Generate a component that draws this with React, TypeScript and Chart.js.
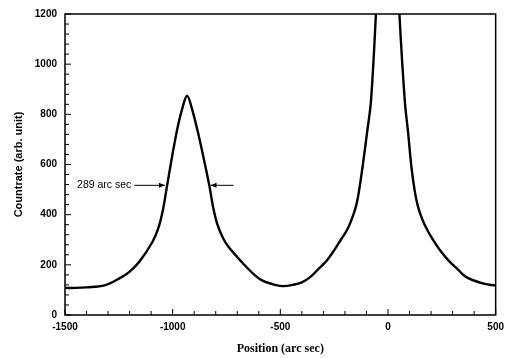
import React, { useEffect, useRef } from "react";
import { Chart, registerables } from "chart.js";

Chart.register(...registerables);

// Position (arc sec)
const positions = [
  -1500, -1450, -1400, -1316, -1247, -1201, -1155, -1094, -1065, -1045, -1027,
  -1002, -979, -956, -933, -910, -879, -852, -830, -812, -792, -765, -741, -680,
  -619, -580, -519, -488, -442, -400, -360, -328, -282, -220, -185, -159, -144, -130, -115, -98,
  -79, -56, -40, -20, 0, 20, 38, 53, 78, 94, 109, 125, 140, 160, 185, 209, 247, 285,
  324, 362, 439, 500,
];
// Countrate (arb. unit)
const countrate = [
  108, 108, 110, 118, 146, 172, 212, 291, 350, 420, 510,
  635, 740, 821, 874, 821, 715, 609, 517, 430, 360, 305, 272, 212,
  159, 136, 119, 115, 120, 130, 152, 179, 219, 298, 348, 404, 450, 520, 610, 722,
  854, 1200, 1500, 2000, 2300, 2000, 1500, 1200, 854, 722, 589, 490, 430, 380, 335, 300, 252, 214,
  182, 152, 126, 117,
];

const xTickValues = [-1500, -1000, -500, 0, 500];
const yTickValues = [0, 200, 400, 600, 800, 1000, 1200];

const annotationText = "289 arc sec";
const annotationY = 517;
const textEndX = -1192;
const leftArrow = [-1178, -1036];
const rightArrow = [-718, -824];

const boxPlugin = {
  id: "boxTicks",
  afterDraw(chart: any) {
    const { ctx, chartArea, scales } = chart;
    const { left, right, top, bottom } = chartArea;
    const x = scales.x;
    const y = scales.y;
    ctx.save();
    ctx.strokeStyle = "#000";
    ctx.lineWidth = 1.5;
    ctx.strokeRect(left, top, right - left, bottom - top);
    ctx.lineWidth = 1;
    for (let v = -1500; v <= 500; v += 100) {
      const px = x.getPixelForValue(v);
      const len = v % 500 === 0 ? 6 : 4;
      ctx.beginPath();
      ctx.moveTo(px, bottom);
      ctx.lineTo(px, bottom - len);
      ctx.stroke();
    }
    for (let v = 0; v <= 1200; v += 40) {
      const py = y.getPixelForValue(v);
      const len = v % 200 === 0 ? 6 : 4;
      ctx.beginPath();
      ctx.moveTo(left, py);
      ctx.lineTo(left + len, py);
      ctx.stroke();
    }
    // annotation
    const ay = y.getPixelForValue(annotationY);
    ctx.fillStyle = "#000";
    ctx.font = "10.5px 'Liberation Sans', Arial, sans-serif";
    ctx.textAlign = "right";
    ctx.textBaseline = "middle";
    ctx.fillText(annotationText, x.getPixelForValue(textEndX), ay);
    const drawArrow = (from: number, to: number) => {
      const x0 = x.getPixelForValue(from);
      const x1 = x.getPixelForValue(to);
      const dir = Math.sign(x1 - x0);
      ctx.beginPath();
      ctx.moveTo(x0, ay);
      ctx.lineTo(x1, ay);
      ctx.stroke();
      ctx.beginPath();
      ctx.moveTo(x1, ay);
      ctx.lineTo(x1 - dir * 6, ay - 2.5);
      ctx.lineTo(x1 - dir * 6, ay + 2.5);
      ctx.closePath();
      ctx.fill();
    };
    drawArrow(leftArrow[0], leftArrow[1]);
    drawArrow(rightArrow[0], rightArrow[1]);
    ctx.restore();
  },
};

export default function App() {
  const ref = useRef<HTMLCanvasElement | null>(null);
  useEffect(() => {
    document.body.style.margin = "0";
    const tickFont = { family: "'Liberation Sans', Arial, sans-serif", size: 10, weight: "bold" as const };
    const chart = new Chart(ref.current!, {
      type: "line",
      data: {
        datasets: [
          {
            data: positions.map((p, i) => ({ x: p, y: countrate[i] })),
            borderColor: "#000",
            borderWidth: 2.4,
            pointRadius: 0,
            tension: 0.35,
            fill: false,
          },
        ],
      },
      options: {
        animation: false,
        responsive: true,
        maintainAspectRatio: false,
        layout: { padding: { top: 13, right: 10, left: 0, bottom: 0 } },
        plugins: { legend: { display: false }, tooltip: { enabled: false } },
        scales: {
          x: {
            type: "linear",
            min: -1500,
            max: 500,
            afterBuildTicks: (s: any) => {
              s.ticks = xTickValues.map((v) => ({ value: v }));
            },
            afterFit: (s: any) => {
              s.height = 43;
            },
            grid: { display: false, drawTicks: false },
            border: { display: false },
            ticks: { color: "#000", font: tickFont, padding: 6, maxRotation: 0, callback: (v: any) => String(v) },
            title: {
              display: true,
              text: "Position (arc sec)",
              color: "#000",
              font: { family: "'Liberation Serif', 'Times New Roman', serif", size: 12, weight: "bold" },
              padding: { top: 0, bottom: 2 },
            },
          },
          y: {
            type: "linear",
            min: 0,
            max: 1200,
            afterBuildTicks: (s: any) => {
              s.ticks = yTickValues.map((v) => ({ value: v }));
            },
            afterFit: (s: any) => {
              s.width = 65;
            },
            grid: { display: false, drawTicks: false },
            border: { display: false },
            ticks: { color: "#000", font: tickFont, padding: 8, callback: (v: any) => String(v) },
            title: {
              display: true,
              text: "Countrate (arb. unit)",
              color: "#000",
              font: { family: "'Liberation Sans', Arial, sans-serif", size: 11, weight: "bold" },
              padding: { top: 12, bottom: 0 },
            },
          },
        },
      },
      plugins: [boxPlugin],
    });
    return () => chart.destroy();
  }, []);
  return (
    <div style={{ position: "fixed", left: 0, top: 0, width: 510, height: 358, background: "#fff" }}>
      <canvas ref={ref} />
    </div>
  );
}
